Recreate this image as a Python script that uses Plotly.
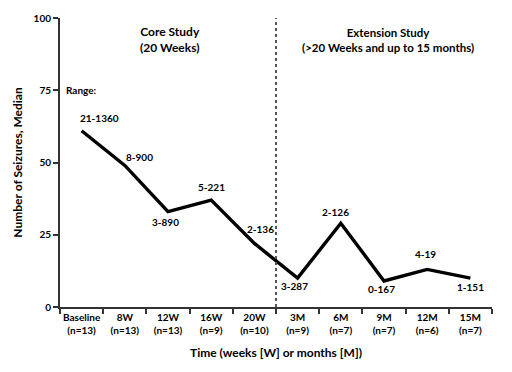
import plotly.graph_objects as go

categories = ["Baseline", "8W", "12W", "16W", "20W", "3M", "6M", "9M", "12M", "15M"]
n_counts = [13, 13, 13, 9, 10, 9, 7, 7, 6, 7]
median_seizures = [61, 49, 33, 37, 22, 10, 29, 9, 13, 10]
ranges = ["21-1360", "8-900", "3-890", "5-221", "2-136", "3-287", "2-126", "0-167", "4-19", "1-151"]
y_ticks = [0, 25, 50, 75, 100]

# label offsets in pixels (xshift, yshift)
label_offsets = [(18, 13), (15, 8), (-3, -10), (0, 13), (6, 14), (-3, -8), (-5, 11), (-3, -8), (-2, 15), (0, -9)]

FONT = "Lato"
x_idx = list(range(len(categories)))
tick_text = [f"{c}<br>(n={n})" for c, n in zip(categories, n_counts)]

fig = go.Figure()
fig.add_trace(go.Scatter(x=x_idx, y=median_seizures, mode="lines",
                         line=dict(color="black", width=3.4), hoverinfo="skip"))

fig.add_shape(type="line", x0=4.5, x1=4.5, y0=0, y1=100, xref="x", yref="y",
              line=dict(color="#555555", width=2, dash="dot"))

annotations = []
for i, (v, r, (dx, dy)) in enumerate(zip(median_seizures, ranges, label_offsets)):
    annotations.append(dict(x=i, y=v, text=f"<b>{r}</b>", showarrow=False,
                            xshift=dx, yshift=dy, font=dict(size=10, color="black", family=FONT)))
annotations.append(dict(x=0, y=75, text="<b>Range:</b>", showarrow=False,
                        font=dict(size=10, color="black", family=FONT)))
annotations.append(dict(x=2.05, y=92.5, text="<b>Core Study<br>(20 Weeks)</b>", showarrow=False,
                        font=dict(size=12, color="black", family=FONT)))
annotations.append(dict(x=7.1, y=92.5, text="<b>Extension Study<br>(>20 Weeks and up to 15 months)</b>",
                        showarrow=False, font=dict(size=11.5, color="black", family=FONT)))

fig.update_layout(
    width=512, height=372,
    margin=dict(l=60, r=20, t=18, b=65),
    paper_bgcolor="white", plot_bgcolor="white",
    showlegend=False,
    font=dict(family=FONT, color="black"),
    annotations=annotations,
    xaxis=dict(range=[-0.5, 9.5], tickmode="array", tickvals=x_idx, ticktext=[f"<b>{t}</b>" for t in tick_text],
               showgrid=False, zeroline=False, showline=True, linecolor="#333333", linewidth=2,
               ticks="", tickfont=dict(size=10, family=FONT),
               minor=dict(tickvals=[i - 0.5 for i in range(len(categories) + 1)],
                          ticks="outside", ticklen=5, tickwidth=1.5, tickcolor="#333333"),
               title=dict(text="<b>Time (weeks [W] or months [M])</b>", font=dict(size=12, family=FONT), standoff=14)),
    yaxis=dict(range=[0, 100], tickmode="array", tickvals=y_ticks, ticktext=[f"<b>{t}</b>" for t in y_ticks],
               showgrid=False, zeroline=False, showline=True, linecolor="#333333", linewidth=2,
               ticks="outside", ticklen=5, tickwidth=1.5, tickcolor="#333333",
               tickfont=dict(size=10, family=FONT),
               title=dict(text="<b>Number of Seizures, Median</b>", font=dict(size=12, family=FONT), standoff=8)),
)

fig.write_html("out.html", config={"displayModeBar": False},
               post_script="document.body.style.margin='0';")
